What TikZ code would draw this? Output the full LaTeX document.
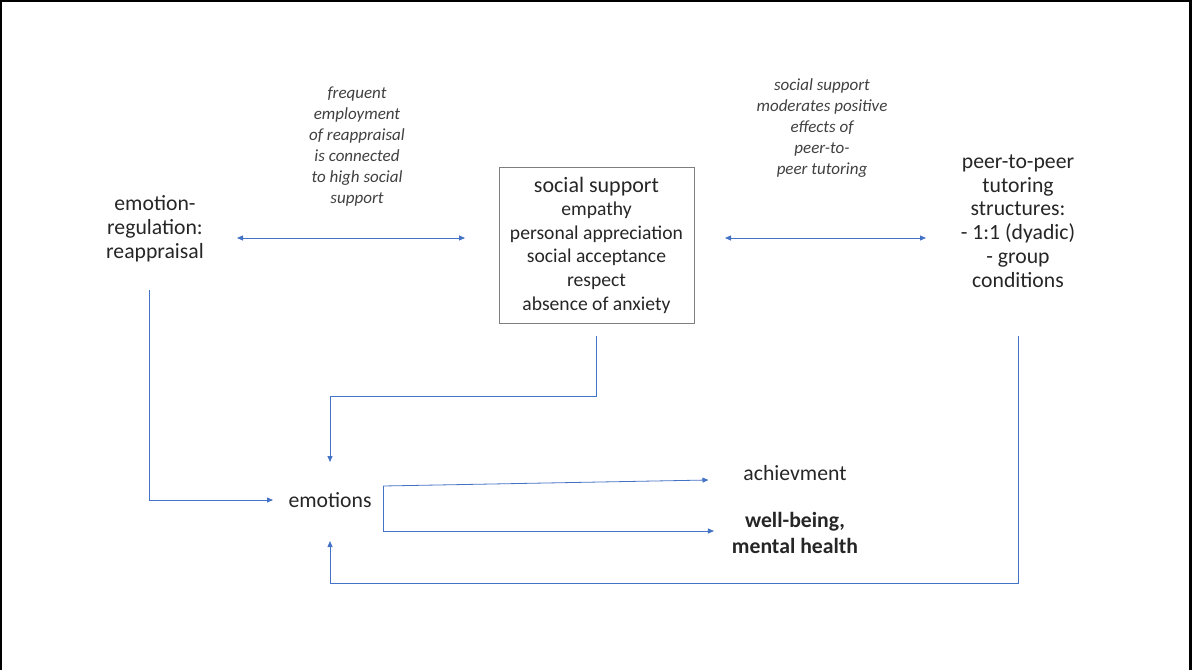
\documentclass[tikz,border=0pt]{standalone}
\usepackage{fontspec}
\setmainfont{Carlito}
\usetikzlibrary{arrows.meta,calc}
\definecolor{lnblue}{HTML}{4472C4}
\definecolor{txt}{HTML}{262626}
\definecolor{itxt}{HTML}{404040}
\definecolor{boxgray}{HTML}{7F7F7F}
\begin{document}
\begin{tikzpicture}[x=1pt,y=-1pt,
  every node/.style={inner sep=0pt, outer sep=0pt, text=txt, align=center},
  mainfont/.style={font=\fontsize{21.7}{23.8}\selectfont},
  lab/.style={text=itxt, font=\fontsize{17}{21}\selectfont\itshape},
  conn/.style={draw=lnblue, line width=0.8pt},
  arr/.style={conn, -{Triangle[length=6pt,width=5pt]}},
  dbl/.style={conn, {Triangle[length=6pt,width=5pt]}-{Triangle[length=6pt,width=5pt]}}]
\useasboundingbox (0,0) rectangle (1192,670);
\draw[line width=2.2pt, black] (1,670) -- (1,1) -- (1190.5,1) -- (1190.5,670);

\node[mainfont, minimum width=164, minimum height=122] (er) at (155,229)
  {emotion-\\regulation:\\reappraisal};
\node[lab] (l1) at (357,147)
  {frequent\\employment\\of reappraisal\\is connected\\to high social\\support};
\node[draw=boxgray, line width=0.8pt, minimum width=195, minimum height=156,
      font=\fontsize{19.6}{23.6}\selectfont] (ss) at (596.5,245)
  {{\fontsize{22}{23.6}\selectfont social support}\\empathy\\personal appreciation\\social acceptance\\respect\\absence of anxiety};
\node[lab] (l2) at (822,128)
  {social support\\moderates positive\\effects of\\peer-to-\\peer tutoring};
\node[mainfont, minimum width=184, minimum height=230] (pp) at (1018,221)
  {peer-to-peer\\tutoring\\structures:\\- 1:1 (dyadic)\\- group\\conditions};
\node[mainfont, minimum width=114, minimum height=76] (emo) at (330,500) {emotions};
\node[mainfont] (ach) at (795,473) {achievment};
\node[font=\fontsize{21.7}{25.5}\selectfont\bfseries] (wb) at (795,533) {well-being,\\mental health};

\draw[dbl] ([yshift=-9pt]er.east) -- ([xshift=-34pt,yshift=7pt]ss.west);
\draw[dbl] ([xshift=31pt,yshift=7pt]ss.east) -- ([yshift=-17pt]pp.west);
\draw[arr] ([xshift=-6pt]er.south) |- (emo.west);
\draw[arr] ([yshift=-13pt]ss.south) -- ([yshift=-73pt]ss.south) -| (emo.north);
\draw[arr] (pp.south) |- ([yshift=-45pt]emo.south) -- ([yshift=-3pt]emo.south);
\draw[arr] ([xshift=-4pt,yshift=14pt]emo.east) -- ([xshift=-35pt,yshift=-7pt]ach.west);
\draw[arr] ([xshift=-4pt,yshift=14pt]emo.east) -- ([xshift=-4pt,yshift=-31pt]emo.east) -- ([xshift=-18pt,yshift=2pt]wb.west);
\end{tikzpicture}
\end{document}
